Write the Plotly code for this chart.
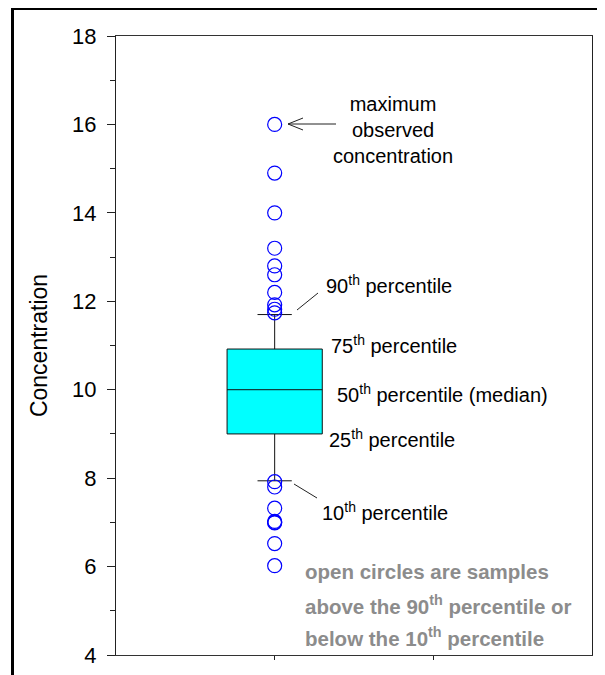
import plotly.graph_objects as go

# ---- data ----
box_x = [1]
q1 = [9.0]
median = [10.0]
q3 = [10.92]
p10 = [7.94]
p90 = [11.7]

outliers_high = [16.0, 14.9, 14.0, 13.2, 12.8, 12.6, 12.2, 11.92, 11.82, 11.74]
outliers_low = [7.92, 7.8, 7.32, 7.02, 7.0, 6.99, 6.52, 6.02]

y_ticks = [4, 6, 8, 10, 12, 14, 16, 18]
y_minor = [5, 7, 9, 11, 13, 15, 17]
x_ticks = [1, 2]

FONT = "Arial, Liberation Sans, sans-serif"

fig = go.Figure()

fig.add_trace(go.Box(
    x=box_x, q1=q1, median=median, q3=q3,
    lowerfence=p10, upperfence=p90,
    width=0.6, whiskerwidth=0.36,
    fillcolor="#00ffff",
    line=dict(color="#111111", width=1),
    boxpoints=False, showlegend=False, hoverinfo="skip",
))

all_out = outliers_high + outliers_low
fig.add_trace(go.Scatter(
    x=[box_x[0]] * len(all_out), y=all_out, mode="markers",
    marker=dict(symbol="circle-open", size=14, color="#0000ff",
                line=dict(width=1.2, color="#0000ff")),
    showlegend=False, hoverinfo="skip",
))

# page-pixel -> data helpers (plot area spans x 116..592, y 36..655 on the page)
def px2x(px):
    return (px - 116) / 158.67

def py2y(py):
    return 18 - (py - 36) / 44.214

annotations = []
black_font = dict(family=FONT, size=20, color="black")
gray_font = dict(family=FONT, size=20.5, color="#8c8c8c")

annotations.append(dict(
    x=px2x(393), y=py2y(130), xref="x", yref="y",
    text="maximum<br>observed<br>concentration",
    showarrow=False, xanchor="center", yanchor="middle",
    font=black_font, align="center"))

labels = [
    ("90<sup>th</sup> percentile", 324, 284),
    ("75<sup>th</sup> percentile", 329, 344),
    ("50<sup>th</sup> percentile (median)", 335, 393),
    ("25<sup>th</sup> percentile", 327, 438),
    ("10<sup>th</sup> percentile", 320, 511),
]
for txt, lx, cy in labels:
    annotations.append(dict(
        x=px2x(lx), y=py2y(cy), xref="x", yref="y", text=txt,
        showarrow=False, xanchor="left", yanchor="middle", font=black_font))

gray_lines = [
    ("<b>open circles are samples</b>", 571),
    ("<b>above the 90<sup>th</sup> percentile or</b>", 605),
    ("<b>below the 10<sup>th</sup> percentile</b>", 637),
]
for txt, cy in gray_lines:
    annotations.append(dict(
        x=px2x(303), y=py2y(cy), xref="x", yref="y", text=txt,
        showarrow=False, xanchor="left", yanchor="middle", font=gray_font))

shapes = []
# arrow to the maximum
shapes.append(dict(type="line", xref="x", yref="y",
                   x0=px2x(288), y0=py2y(124), x1=px2x(336), y1=py2y(124),
                   line=dict(color="#222222", width=1)))
shapes.append(dict(type="path", xref="x", yref="y",
                   path=f"M {px2x(303)},{py2y(118)} L {px2x(288)},{py2y(124)} L {px2x(303)},{py2y(130)}",
                   line=dict(color="#222222", width=1)))
# leader lines
shapes.append(dict(type="line", xref="x", yref="y",
                   x0=px2x(297), y0=py2y(310), x1=px2x(318), y1=py2y(293),
                   line=dict(color="#222222", width=1)))
shapes.append(dict(type="line", xref="x", yref="y",
                   x0=px2x(294), y0=py2y(484), x1=px2x(317), y1=py2y(498),
                   line=dict(color="#222222", width=1)))
# outer frame
shapes.append(dict(type="rect", xref="paper", yref="paper",
                   x0=(12.5 - 116) / 476, x1=1.2,
                   y0=-0.2, y1=1 + (36 - 8.5) / 619,
                   line=dict(color="black", width=3), fillcolor="rgba(0,0,0,0)"))

# the page body adds an 8px offset, so margins are set 8px smaller on left/top
fig.update_layout(
    width=605, height=675,
    margin=dict(l=108, r=21, t=28, b=28),
    paper_bgcolor="white", plot_bgcolor="white",
    font=dict(family=FONT, color="black"),
    annotations=annotations, shapes=shapes,
    showlegend=False,
)

fig.update_xaxes(
    range=[0, 3], tickvals=x_ticks, showticklabels=False,
    ticks="outside", ticklen=4, tickcolor="#222222",
    showline=True, linecolor="#333333", linewidth=1, mirror=True,
    showgrid=False, zeroline=False,
)
fig.update_yaxes(
    range=[4, 18], tickvals=y_ticks,
    ticks="outside", ticklen=8, tickcolor="#222222",
    ticklabelstandoff=6,
    tickfont=dict(family=FONT, size=22, color="black"),
    minor=dict(tickvals=y_minor, ticks="outside", ticklen=5, tickcolor="#222222"),
    showline=True, linecolor="#222222", linewidth=1, mirror=True,
    showgrid=False, zeroline=False,
    title=dict(text="Concentration", font=dict(family=FONT, size=23, color="black"),
               standoff=18),
)

fig.write_html("out.html")
